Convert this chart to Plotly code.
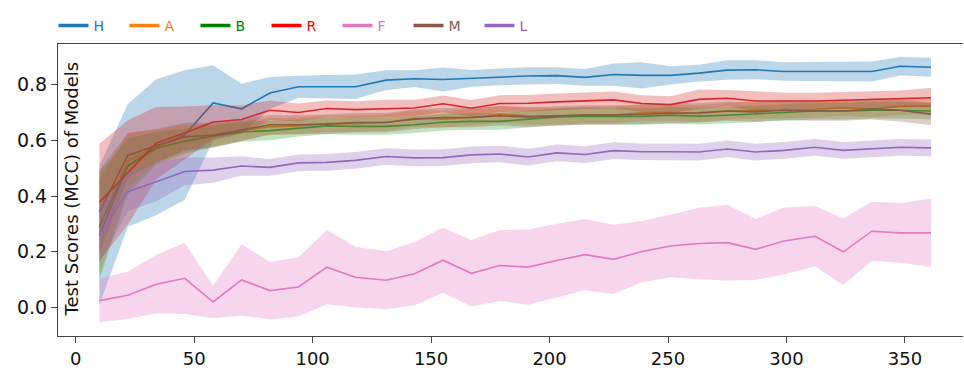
import plotly.graph_objects as go

x_vals = [10, 22, 34, 46, 58, 70, 82, 94, 106, 118, 131, 143, 155, 167, 179,
          191, 203, 215, 227, 239, 251, 263, 275, 287, 299, 312, 324, 336, 348, 361]

series_names = ["H", "A", "B", "R", "F", "M", "L"]

H_mean = [0.259, 0.510, 0.575, 0.619, 0.734, 0.713, 0.770, 0.792, 0.792, 0.792, 0.816, 0.821, 0.818, 0.822, 0.828,
          0.831, 0.832, 0.826, 0.836, 0.833, 0.833, 0.841, 0.852, 0.853, 0.847, 0.847, 0.847, 0.847, 0.866, 0.862]
H_std = [0.250, 0.220, 0.244, 0.232, 0.135, 0.090, 0.057, 0.040, 0.042, 0.044, 0.035, 0.030, 0.043, 0.030, 0.030,
         0.031, 0.030, 0.030, 0.040, 0.047, 0.033, 0.030, 0.035, 0.034, 0.033, 0.033, 0.035, 0.036, 0.033, 0.034]

A_mean = [0.286, 0.526, 0.578, 0.610, 0.620, 0.635, 0.649, 0.652, 0.660, 0.660, 0.664, 0.679, 0.676, 0.682, 0.694,
          0.688, 0.686, 0.691, 0.691, 0.699, 0.700, 0.696, 0.705, 0.708, 0.708, 0.711, 0.717, 0.713, 0.722, 0.723]
A_std = [0.170, 0.100, 0.060, 0.045, 0.040, 0.035, 0.030, 0.030, 0.030, 0.030, 0.030, 0.030, 0.030, 0.030, 0.030,
         0.030, 0.030, 0.030, 0.030, 0.030, 0.030, 0.030, 0.030, 0.030, 0.030, 0.030, 0.030, 0.030, 0.030, 0.030]

B_mean = [0.292, 0.507, 0.572, 0.597, 0.615, 0.630, 0.635, 0.644, 0.652, 0.650, 0.650, 0.656, 0.665, 0.668, 0.668,
          0.676, 0.684, 0.687, 0.687, 0.686, 0.690, 0.687, 0.690, 0.696, 0.700, 0.705, 0.705, 0.708, 0.708, 0.705]
B_std = [0.190, 0.100, 0.060, 0.045, 0.040, 0.035, 0.035, 0.030, 0.030, 0.030, 0.030, 0.030, 0.030, 0.030, 0.030,
         0.030, 0.030, 0.030, 0.030, 0.030, 0.030, 0.030, 0.030, 0.030, 0.030, 0.030, 0.030, 0.030, 0.030, 0.030]

R_mean = [0.378, 0.485, 0.590, 0.626, 0.666, 0.675, 0.708, 0.700, 0.714, 0.710, 0.714, 0.716, 0.731, 0.715, 0.732,
          0.733, 0.738, 0.742, 0.745, 0.732, 0.728, 0.747, 0.751, 0.741, 0.741, 0.741, 0.744, 0.747, 0.749, 0.753]
R_std = [0.210, 0.187, 0.130, 0.095, 0.060, 0.050, 0.035, 0.032, 0.030, 0.030, 0.032, 0.030, 0.030, 0.030, 0.030,
         0.030, 0.030, 0.030, 0.030, 0.030, 0.030, 0.035, 0.030, 0.035, 0.030, 0.030, 0.030, 0.030, 0.030, 0.035]

F_mean = [0.025, 0.044, 0.084, 0.105, 0.020, 0.099, 0.061, 0.074, 0.145, 0.109, 0.098, 0.121, 0.170, 0.123, 0.151,
          0.145, 0.169, 0.190, 0.173, 0.201, 0.221, 0.230, 0.233, 0.209, 0.239, 0.256, 0.200, 0.274, 0.268, 0.268]
F_std = [0.078, 0.085, 0.105, 0.128, 0.058, 0.128, 0.103, 0.106, 0.133, 0.109, 0.104, 0.114, 0.117, 0.119, 0.127,
         0.135, 0.132, 0.128, 0.124, 0.110, 0.112, 0.128, 0.136, 0.110, 0.120, 0.108, 0.120, 0.106, 0.107, 0.122]

M_mean = [0.343, 0.546, 0.581, 0.613, 0.618, 0.638, 0.656, 0.656, 0.658, 0.664, 0.664, 0.676, 0.682, 0.682, 0.688,
          0.684, 0.687, 0.691, 0.691, 0.694, 0.696, 0.699, 0.705, 0.702, 0.708, 0.705, 0.705, 0.713, 0.708, 0.694]
M_std = [0.150, 0.080, 0.060, 0.050, 0.045, 0.040, 0.035, 0.035, 0.035, 0.035, 0.035, 0.035, 0.035, 0.035, 0.035,
         0.035, 0.035, 0.035, 0.035, 0.035, 0.035, 0.035, 0.035, 0.035, 0.035, 0.035, 0.035, 0.038, 0.040, 0.040]

L_mean = [0.259, 0.416, 0.451, 0.488, 0.493, 0.508, 0.503, 0.519, 0.521, 0.528, 0.542, 0.537, 0.538, 0.548, 0.551,
          0.540, 0.555, 0.549, 0.563, 0.559, 0.559, 0.558, 0.569, 0.558, 0.564, 0.575, 0.564, 0.570, 0.575, 0.573]
L_std = [0.100, 0.070, 0.070, 0.050, 0.045, 0.035, 0.030, 0.030, 0.030, 0.030, 0.030, 0.030, 0.030, 0.030, 0.030,
         0.030, 0.030, 0.030, 0.030, 0.030, 0.030, 0.030, 0.030, 0.030, 0.030, 0.030, 0.030, 0.030, 0.030, 0.030]

means = {"H": H_mean, "A": A_mean, "B": B_mean, "R": R_mean, "F": F_mean, "M": M_mean, "L": L_mean}
stds = {"H": H_std, "A": A_std, "B": B_std, "R": R_std, "F": F_std, "M": M_std, "L": L_std}

line_colors = {"H": "#1f77b4", "A": "#ff7f0e", "B": "#2ca02c", "R": "#d62728",
               "F": "#e377c2", "M": "#8c564b", "L": "#9467bd"}
fill_colors = {"H": "rgba(31,119,180,0.3)", "A": "rgba(255,127,14,0.3)", "B": "rgba(44,160,44,0.3)",
               "R": "rgba(214,39,40,0.3)", "F": "rgba(227,119,194,0.3)", "M": "rgba(140,86,75,0.3)",
               "L": "rgba(148,103,189,0.3)"}
legend_colors = {"H": "#1f77b4", "A": "#ff7f0e", "B": "#008000", "R": "#ff0000",
                 "F": "#e377c2", "M": "#8c564b", "L": "#9467bd"}

fig = go.Figure()

for name in series_names:
    m = means[name]
    s = stds[name]
    upper = [a + b for a, b in zip(m, s)]
    lower = [a - b for a, b in zip(m, s)]
    fig.add_trace(go.Scatter(
        x=x_vals + x_vals[::-1], y=upper + lower[::-1],
        fill="toself", fillcolor=fill_colors[name], line=dict(width=0),
        mode="lines", showlegend=False, hoverinfo="skip"))
    fig.add_trace(go.Scatter(
        x=x_vals, y=m, mode="lines", line=dict(color=line_colors[name], width=1.6),
        showlegend=False, name=name))

for name in series_names:
    fig.add_trace(go.Scatter(
        x=[None], y=[None], mode="lines",
        line=dict(color=legend_colors[name], width=3.5),
        name='<span style="color:%s">%s</span>' % (legend_colors[name], name),
        showlegend=True))

fig.update_layout(
    width=964, height=371,
    margin=dict(l=58, r=1, t=41, b=35),
    paper_bgcolor="white", plot_bgcolor="white",
    font=dict(family="DejaVu Sans", size=18, color="#111111"),
    showlegend=True,
    legend=dict(orientation="h", xref="container", yref="container",
                x=0.0555, y=0.93, xanchor="left", yanchor="middle",
                font=dict(size=14), entrywidth=26, bgcolor="rgba(0,0,0,0)"),
    xaxis=dict(range=[-7.47, 374.5], tickvals=[0, 50, 100, 150, 200, 250, 300, 350],
               showgrid=False, zeroline=False, showline=True, linecolor="#444444", linewidth=1.2,
               mirror=True, ticks="outside", ticklen=6, tickcolor="#444444",
               tickfont=dict(size=18)),
    yaxis=dict(range=[-0.102, 0.945], tickvals=[0.0, 0.2, 0.4, 0.6, 0.8],
               tickformat=".1f",
               showgrid=False, zeroline=False, showline=True, linecolor="#444444", linewidth=1.2,
               mirror=False, ticks="outside", ticklen=6, tickcolor="#444444",
               tickfont=dict(size=19)),
    annotations=[dict(text="Test Scores (MCC) of Models", xref="paper", yref="paper",
                      x=0.0151, y=0.5046, xanchor="center", yanchor="middle",
                      textangle=-90, showarrow=False, font=dict(size=18, color="#111111"))],
)

fig.write_html("out.html")
